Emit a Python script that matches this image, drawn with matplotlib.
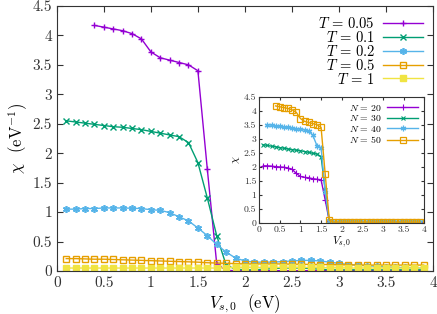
import matplotlib
matplotlib.use('Agg')
import matplotlib.pyplot as plt
from matplotlib.ticker import FuncFormatter, MultipleLocator
import numpy as np

plt.rcParams['font.family'] = 'serif'
plt.rcParams['font.serif'] = ['cmr10', 'DejaVu Serif']
plt.rcParams['mathtext.fontset'] = 'cm'
plt.rcParams['axes.formatter.use_mathtext'] = True

# ---- main panel data: chi vs V_s0 for several temperatures ----
v_main = np.round(np.arange(0.1, 4.0, 0.1), 1)  # 0.1 .. 3.9

chi_T005 = [4.17, 4.14, 4.11, 4.08, 4.03, 3.94, 3.72, 3.62, 3.58, 3.54, 3.50, 3.40,
            1.73, 0.12, 0.01, 0.005, 0.005, 0.005, 0.005, 0.005, 0.005, 0.005, 0.005,
            0.005, 0.005, 0.005, 0.005, 0.005, 0.005, 0.005, 0.005, 0.005, 0.005, 0.005,
            0.005, 0.005]
v_T005 = v_main[3:]

chi_T01 = [2.55, 2.53, 2.51, 2.49, 2.47, 2.45, 2.44, 2.42, 2.40, 2.37, 2.34, 2.31, 2.28,
           2.18, 1.84, 1.24, 0.60, 0.10, 0.03, 0.02, 0.02, 0.03, 0.04, 0.05, 0.05, 0.05,
           0.04, 0.03, 0.02, 0.02, 0.02, 0.02, 0.02, 0.02, 0.02, 0.02, 0.02, 0.02, 0.02]

chi_T02 = [1.05, 1.05, 1.06, 1.06, 1.07, 1.07, 1.07, 1.065, 1.06, 1.04, 1.03, 0.99, 0.92,
           0.85, 0.73, 0.60, 0.45, 0.32, 0.22, 0.17, 0.15, 0.15, 0.15, 0.16, 0.17, 0.18,
           0.18, 0.17, 0.15, 0.13, 0.11, 0.10, 0.09, 0.08, 0.07, 0.06, 0.06, 0.05, 0.05]

chi_T05 = [0.21, 0.21, 0.205, 0.20, 0.20, 0.195, 0.19, 0.185, 0.18, 0.175, 0.17, 0.165,
           0.16, 0.155, 0.15, 0.14, 0.135, 0.13, 0.125, 0.12, 0.12, 0.12, 0.12, 0.12,
           0.115, 0.115, 0.11, 0.11, 0.11, 0.105, 0.105, 0.10, 0.10, 0.10, 0.10, 0.10,
           0.10, 0.10, 0.10]

chi_T1 = [0.05, 0.05, 0.05, 0.05, 0.05, 0.05, 0.05, 0.05, 0.05, 0.05, 0.05, 0.05, 0.05,
          0.05, 0.05, 0.05, 0.05, 0.055, 0.06, 0.06, 0.06, 0.06, 0.06, 0.06, 0.06, 0.06,
          0.06, 0.06, 0.055, 0.055, 0.05, 0.05, 0.05, 0.05, 0.05, 0.05, 0.05, 0.05, 0.05]

# ---- inset data: chi vs V_s0 for several N ----
chi_N20 = [2.03, 2.03, 2.02, 2.00, 1.99, 1.98, 1.95, 1.90, 1.76, 1.65, 1.62, 1.60, 1.57,
           1.55, 1.53, 0.81, 0.05] + [0.02] * 22
chi_N30 = [2.78, 2.76, 2.73, 2.71, 2.68, 2.66, 2.63, 2.61, 2.59, 2.57, 2.54, 2.51, 2.48,
           2.45, 2.36, 1.15, 0.05] + [0.02] * 22
v_N40 = v_main[1:]
chi_N40 = [3.50, 3.48, 3.46, 3.44, 3.42, 3.40, 3.38, 3.36, 3.34, 3.31, 3.28, 3.12, 2.75,
           2.68, 1.10, 0.05] + [0.02] * 22
v_N50 = v_main[3:]
chi_N50 = [4.17, 4.14, 4.11, 4.08, 4.03, 3.94, 3.72, 3.62, 3.58, 3.54, 3.50, 3.40, 1.73,
           0.08] + [0.02] * 22

purple = '#9400D3'
green = '#009E73'
blue = '#56B4E9'
orange = '#E69F00'
yellow = '#F0E442'
asterisk = (6, 2, 0)

fmt = FuncFormatter(lambda v, p: '%g' % v)

fig = plt.figure(figsize=(4.37, 3.14), dpi=100)
ax = fig.add_axes([0.130, 0.137, 0.861, 0.844])

ax.plot(v_T005, chi_T005, color=purple, marker='+', ms=5, lw=1, mew=1, label=r'$T\,=\,0.05$')
ax.plot(v_main, chi_T01, color=green, marker='x', ms=4, lw=1, mew=1, label=r'$T\,=\,0.1$')
ax.plot(v_main, chi_T02, color=blue, marker=asterisk, ms=5, lw=1, mew=1.2, label=r'$T\,=\,0.2$')
ax.plot(v_main, chi_T05, color=orange, marker='s', ms=4.5, mfc='none', lw=1, mew=1,
        label=r'$T\,=\,0.5$')
ax.plot(v_main, chi_T1, color=yellow, marker='s', ms=4, lw=1, mew=1, label=r'$T\,=\,1$')

ax.set_xlim(0, 4)
ax.set_ylim(0, 4.5)
ax.xaxis.set_major_locator(MultipleLocator(0.5))
ax.yaxis.set_major_locator(MultipleLocator(0.5))
ax.xaxis.set_major_formatter(fmt)
ax.yaxis.set_major_formatter(fmt)
ax.tick_params(direction='in', top=True, right=True, labelsize=11, length=4,
               colors='#333333', labelcolor='#333333')
for s in ax.spines.values():
    s.set_color('#333333')
ax.set_xlabel(r'$V_{s,0}$  (eV)', fontsize=12, labelpad=2)
ax.set_ylabel(r'$\chi$  (eV$^{-1}$)', fontsize=12, labelpad=2)
ax.legend(loc='upper right', frameon=False, markerfirst=False, fontsize=10.5,
          handlelength=2.7, borderaxespad=0.5, borderpad=0.2, labelspacing=-0.08,
          handletextpad=0.6)

# ---- inset ----
ins = fig.add_axes([0.593, 0.291, 0.378, 0.401])
ins.plot(v_main, chi_N20, color=purple, marker='+', ms=4, lw=1, mew=0.8, label=r'$N\,=\,20$')
ins.plot(v_main, chi_N30, color=green, marker='x', ms=3, lw=1, mew=0.8, label=r'$N\,=\,30$')
ins.plot(v_N40, chi_N40, color=blue, marker=asterisk, ms=4, lw=1, mew=0.9, label=r'$N\,=\,40$')
ins.plot(v_N50, chi_N50, color=orange, marker='s', ms=4, mfc='none', lw=1, mew=0.9,
         label=r'$N\,=\,50$')
ins.set_xlim(0, 4)
ins.set_ylim(0, 4.5)
ins.xaxis.set_major_locator(MultipleLocator(0.5))
ins.yaxis.set_major_locator(MultipleLocator(0.5))
ins.xaxis.set_major_formatter(fmt)
ins.yaxis.set_major_formatter(fmt)
ins.tick_params(direction='in', top=True, right=True, labelsize=7, length=2.5, pad=2,
                colors='#333333', labelcolor='#333333')
for s in ins.spines.values():
    s.set_color('#333333')
ins.set_xlabel(r'$V_{s,0}$', fontsize=8, labelpad=1)
ins.set_ylabel(r'$\chi$', fontsize=8, labelpad=1)
ins.legend(loc='upper right', frameon=False, markerfirst=False, fontsize=7,
           handlelength=3.2, borderaxespad=0.2, labelspacing=0.05, handletextpad=0.6)

fig.savefig('out.png', dpi=100)
